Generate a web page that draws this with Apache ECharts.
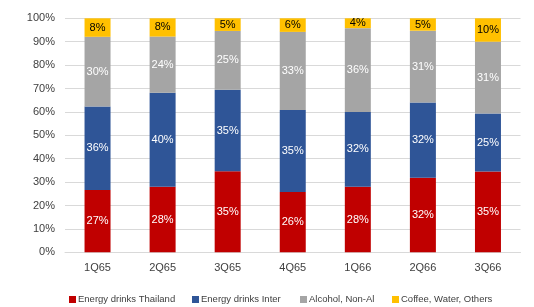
<!DOCTYPE html>
<html><head><meta charset="utf-8">
<script src="https://cdn.jsdelivr.net/npm/echarts@6/dist/echarts.min.js"></script>
<style>html,body{margin:0;padding:0;background:#fff}#c{width:534px;height:307px}</style>
</head><body><div id="c"></div>
<script>
const categories = ['1Q65','2Q65','3Q65','4Q65','1Q66','2Q66','3Q66'];
const seriesNames = ['Energy drinks Thailand','Energy drinks Inter','Alcohol, Non-Al','Coffee, Water, Others'];
const thailand = [26.6, 28.0, 34.6, 25.8, 28.0, 31.9, 34.5];
const inter    = [35.7, 40.2, 34.9, 35.0, 32.0, 32.1, 24.8];
const alcohol  = [29.8, 24.0, 25.1, 33.4, 35.8, 30.7, 30.7];
const coffee   = [7.9, 7.8, 5.4, 5.8, 4.2, 5.3, 10.0];
const yTicks = [0,10,20,30,40,50,60,70,80,90,100];

const colors = ['#C00000','#2F5597','#A5A5A5','#FFC000'];
const labelColors = ['#ffffff','#ffffff','#ffffff','#000000'];
const font = 'Liberation Sans, Arial, sans-serif';
const data = [thailand, inter, alcohol, coffee];
const legendX = [69, 192, 300, 392];

const chart = echarts.init(document.getElementById('c'));
chart.setOption({
  animation: false,
  grid: {left: 65, right: 13.5, top: 18.3, bottom: 54.7},
  xAxis: {
    type: 'category', data: categories,
    axisLine: {lineStyle: {color: '#D9D9D9'}},
    axisTick: {show: false},
    axisLabel: {color: '#404040', fontFamily: font, fontSize: 11, margin: 10}
  },
  yAxis: {
    type: 'value', min: 0, max: 100, interval: 10,
    axisLine: {show: false}, axisTick: {show: false},
    splitLine: {lineStyle: {color: '#D9D9D9', width: 1}},
    axisLabel: {color: '#404040', fontFamily: font, fontSize: 11, margin: 10,
      formatter: v => yTicks.includes(v) ? v + '%' : ''}
  },
  legend: seriesNames.map((n, i) => ({
    data: [n], left: legendX[i], top: 294.5, padding: 0, itemWidth: 7, itemHeight: 7, itemGap: 4,
    icon: 'rect', textStyle: {color: '#404040', fontFamily: font, fontSize: 9.5, padding: [0,0,0,-3]}
  })),
  series: seriesNames.map((n, i) => ({
    name: n, type: 'bar', stack: 'total', barWidth: 26,
    data: data[i],
    itemStyle: {color: colors[i]},
    label: {show: true, position: 'inside', color: labelColors[i], fontFamily: font, fontSize: 11,
      formatter: p => Math.round(p.value) + '%'}
  }))
});
</script></body></html>
